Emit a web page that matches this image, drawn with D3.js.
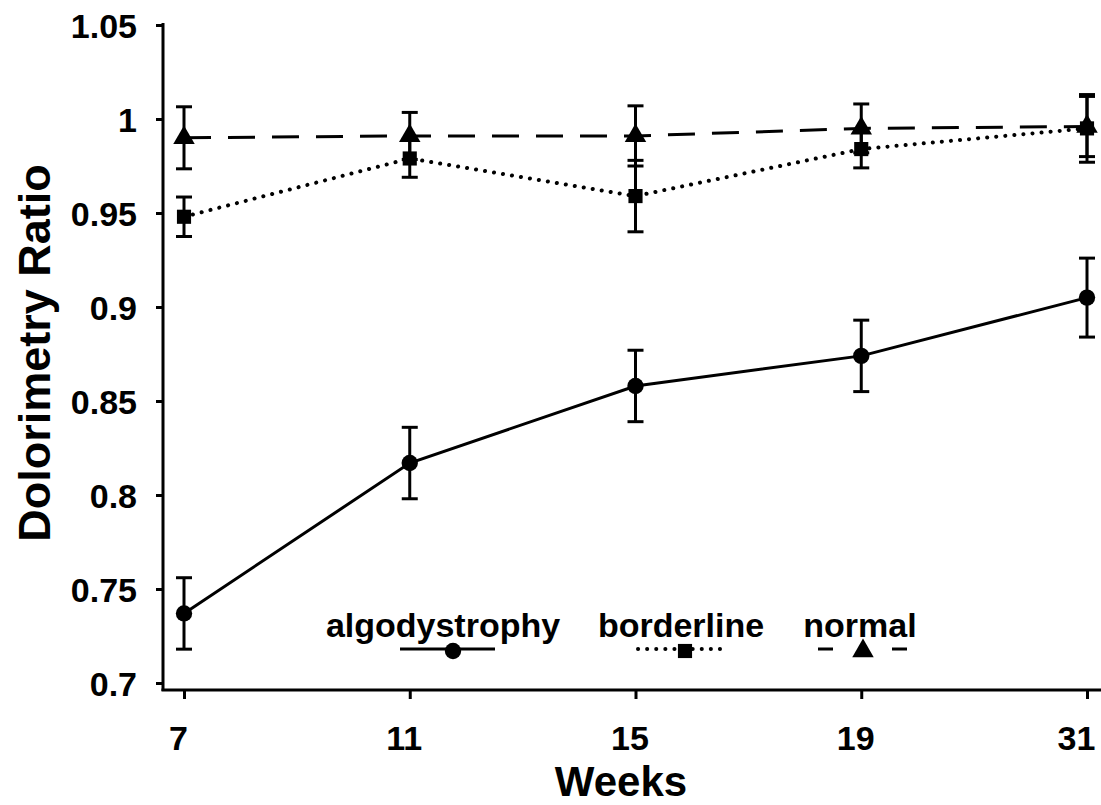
<!DOCTYPE html>
<html>
<head>
<meta charset="utf-8">
<script src="https://cdn.jsdelivr.net/npm/d3@7"></script>
<style>
  html, body { margin: 0; padding: 0; background: #fff; }
  text { font-family: "Liberation Sans", Arial, Helvetica, sans-serif; font-weight: bold; fill: #000; }
</style>
</head>
<body>
<svg id="chart" width="1101" height="805"></svg>
<script>
const weeks = ["7", "11", "15", "19", "31"];
const yTicks = [0.7, 0.75, 0.8, 0.85, 0.9, 0.95, 1, 1.05];
const yTickLabels = ["0.7", "0.75", "0.8", "0.85", "0.9", "0.95", "1", "1.05"];

const algodystrophy = [0.737, 0.817, 0.858, 0.874, 0.905];
const algodystrophyErr = [0.019, 0.019, 0.019, 0.019, 0.021];
const borderline = [0.948, 0.979, 0.959, 0.984, 0.995];
const borderlineErr = [0.0105, 0.010, 0.019, 0.010, 0.018];
const normal = [0.990, 0.991, 0.991, 0.995, 0.996];
const normalErr = [0.0165, 0.0125, 0.016, 0.013, 0.016];

const seriesNames = ["algodystrophy", "borderline", "normal"];

const svg = d3.select("#chart");
const x = d3.scalePoint().domain(weeks).range([184, 1087]);
const y = d3.scaleLinear().domain([0.7, 1.05]).range([683, 25]);

const axisColor = "#000";
// Y axis
const yAxis = svg.append("g").attr("transform", "translate(163,0)")
  .call(d3.axisLeft(y).tickValues(yTicks).tickFormat((d, i) => yTickLabels[i]).tickSize(7).tickPadding(19).tickSizeOuter(0));
yAxis.select(".domain").remove();
yAxis.selectAll(".tick line").attr("stroke", axisColor).attr("stroke-width", 3);
yAxis.selectAll(".tick text").style("font-size", "34px").attr("dy", "0.36em");
svg.append("line").attr("x1", 163).attr("x2", 163).attr("y1", 23).attr("y2", 691)
  .attr("stroke", axisColor).attr("stroke-width", 3);

// X axis
const xAxis = svg.append("g").attr("transform", "translate(0,690)")
  .call(d3.axisBottom(x).tickSize(9).tickPadding(0).tickSizeOuter(0));
xAxis.select(".domain").remove();
xAxis.selectAll(".tick line").attr("stroke", axisColor).attr("stroke-width", 3);
xAxis.selectAll(".tick text").style("font-size", "34px")
  .attr("y", 60).attr("dy", 0)
  .attr("dx", (d, i) => i === weeks.length - 1 ? -11 : -6);
svg.append("line").attr("x1", 161.5).attr("x2", 1101).attr("y1", 690).attr("y2", 690)
  .attr("stroke", axisColor).attr("stroke-width", 3);

// Axis titles
svg.append("text").attr("x", 621).attr("y", 796)
  .attr("text-anchor", "middle").style("font-size", "42px").text("Weeks");
svg.append("text").attr("transform", "translate(50,353) rotate(-90)")
  .attr("text-anchor", "middle").style("font-size", "45px").text("Dolorimetry Ratio");

const styles = {
  algodystrophy: { dash: null, cap: "butt" },
  borderline: { dash: "0.1 9", cap: "round" },
  normal: { dash: "27 17", cap: "butt" }
};

function drawSeries(name, vals, errs, marker) {
  const g = svg.append("g");
  const pts = vals.map((v, i) => ({ w: weeks[i], v, e: errs[i] }));
  const line = d3.line().x(d => x(d.w)).y(d => y(d.v));
  const st = styles[name];
  g.append("path").datum(pts).attr("d", line).attr("fill", "none")
    .attr("stroke", "#000").attr("stroke-width", name === "borderline" ? 4 : 3)
    .attr("stroke-dasharray", st.dash).attr("stroke-linecap", st.cap);
  const eb = g.selectAll("g.eb").data(pts).enter().append("g");
  eb.append("line").attr("x1", d => x(d.w)).attr("x2", d => x(d.w))
    .attr("y1", d => y(d.v + d.e)).attr("y2", d => y(d.v - d.e))
    .attr("stroke", "#000").attr("stroke-width", 3);
  [1, -1].forEach(s => {
    eb.append("line").attr("x1", d => x(d.w) - 8).attr("x2", d => x(d.w) + 8)
      .attr("y1", d => y(d.v + s * d.e)).attr("y2", d => y(d.v + s * d.e))
      .attr("stroke", "#000").attr("stroke-width", 3);
  });
  g.selectAll("path.m").data(pts).enter().append("path")
    .attr("transform", d => `translate(${x(d.w)},${y(d.v)})`)
    .attr("d", marker).attr("fill", "#000");
}

const circleM = d3.symbol().type(d3.symbolCircle).size(210)();
const squareM = d3.symbol().type(d3.symbolSquare).size(200)();
const triM = d3.symbol().type(d3.symbolTriangle).size(200)();

drawSeries("algodystrophy", algodystrophy, algodystrophyErr, circleM);
drawSeries("borderline", borderline, borderlineErr, squareM);
drawSeries("normal", normal, normalErr, triM);

// Legend
const legendItems = [
  { name: seriesNames[0], cx: 443, x1: 400, x2: 495, mx: 453, marker: circleM, dash: null },
  { name: seriesNames[1], cx: 681, x1: 638, x2: 728, mx: 685, marker: squareM, dash: "0.1 9" },
  { name: seriesNames[2], cx: 860, x1: 818, x2: 907, mx: 863, marker: triM, dash: "15 59 15" }
];
const lg = svg.append("g");
legendItems.forEach(it => {
  lg.append("text").attr("x", it.cx).attr("y", 637).attr("text-anchor", "middle")
    .style("font-size", "34px").text(it.name);
  const st = styles[it.name];
  lg.append("line").attr("x1", it.x1).attr("x2", it.x2).attr("y1", 649).attr("y2", 649)
    .attr("stroke", "#000").attr("stroke-width", it.name === "borderline" ? 4 : 3)
    .attr("stroke-dasharray", it.dash)
    .attr("stroke-linecap", st.cap);
  lg.append("path").attr("transform", `translate(${it.mx},651)`).attr("d", it.marker).attr("fill", "#000");
});
</script>
</body>
</html>
